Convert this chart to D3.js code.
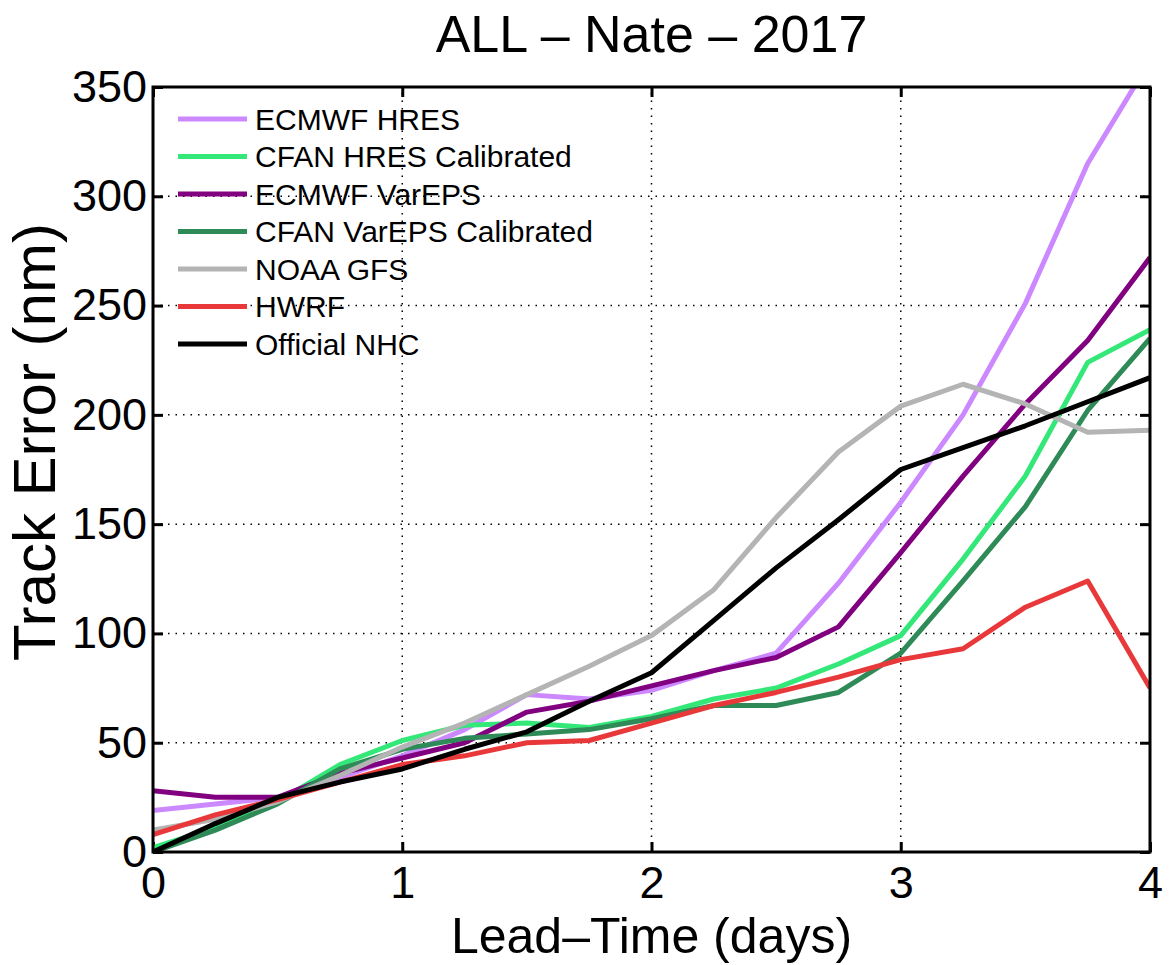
<!DOCTYPE html>
<html>
<head>
<meta charset="utf-8">
<script src="https://cdn.jsdelivr.net/npm/d3@7"></script>
<style>
  body { margin: 0; background: #fff; }
  text { font-family: "Liberation Sans", Arial, Helvetica, sans-serif; fill: #000; }
</style>
</head>
<body>
<div id="container"></div>
<script>
/* CONSTANTS AND GLOBALS */
const width = 1169,
  height = 965,
  margin = { top: 87, bottom: 113, left: 153, right: 19 };

/* DATA */
const leadDays = [0, 0.25, 0.5, 0.75, 1, 1.25, 1.5, 1.75, 2, 2.25, 2.5, 2.75, 3, 3.25, 3.5, 3.75, 4];
const ecmwfHres = [19, 22, 25, 34, 44, 56, 72, 70, 74, 83, 91, 123, 160, 200, 251, 315, 362];
const cfanHresCal = [2, 11, 23, 40, 51, 58, 59, 57, 62, 70, 75, 86, 99, 134, 172, 224, 239];
const ecmwfVareps = [28, 25, 25, 36, 43, 50, 64, 69, 76, 83, 89, 103, 137, 172, 205, 234, 272];
const cfanVarepsCal = [0, 10, 22, 38, 47, 52, 54, 56, 61, 67, 67, 73, 91, 124, 158, 202, 235];
const noaaGfs = [10, 15, 23, 35, 48, 59, 72, 85, 99, 120, 153, 183, 204, 214, 205, 192, 193];
const hwrf = [8, 17, 24, 32, 40, 44, 50, 51, 59, 67, 73, 80, 88, 93, 112, 124, 75];
const officialNhc = [0, 13, 25, 32, 38, 47, 55, 69, 82, 106, 130, 152, 175, 185, 195, 206, 217];

const seriesNames = ["ECMWF HRES", "CFAN HRES Calibrated", "ECMWF VarEPS", "CFAN VarEPS Calibrated", "NOAA GFS", "HWRF", "Official NHC"];
const seriesValues = [ecmwfHres, cfanHresCal, ecmwfVareps, cfanVarepsCal, noaaGfs, hwrf, officialNhc];
const seriesColors = ["#cc88ff", "#33e878", "#800080", "#2e8b57", "#b4b4b4", "#e8383a", "#000000"];

const xTicks = [0, 1, 2, 3, 4];
const yTicks = [0, 50, 100, 150, 200, 250, 300, 350];

// SCALES
const xScale = d3.scaleLinear()
  .domain([0, 4])
  .range([margin.left, width - margin.right]);

const yScale = d3.scaleLinear()
  .domain([0, 350])
  .range([height - margin.bottom, margin.top]);

// CREATE SVG ELEMENT
const svg = d3.select("#container")
  .append("svg")
  .attr("width", width)
  .attr("height", height);

const x0 = margin.left, x1 = width - margin.right,
  y0 = height - margin.bottom, y1 = margin.top;

svg.append("clipPath")
  .attr("id", "plotClip")
  .append("rect")
    .attr("x", x0).attr("y", y1)
    .attr("width", x1 - x0).attr("height", y0 - y1);

// GRID (dotted)
const grid = svg.append("g").attr("class", "grid")
  .attr("stroke", "#000").attr("stroke-width", 1.5)
  .attr("stroke-dasharray", "1.5,6");

grid.selectAll(".vgrid")
  .data(xTicks.slice(1, -1))
  .join("line")
    .attr("x1", d => xScale(d)).attr("x2", d => xScale(d))
    .attr("y1", y0).attr("y2", y1);

grid.selectAll(".hgrid")
  .data(yTicks.slice(1, -1))
  .join("line")
    .attr("y1", d => yScale(d)).attr("y2", d => yScale(d))
    .attr("x1", x0).attr("x2", x1);

// AXES (ticks point inward, box on all sides)
const tickLen = 10;
svg.append("g")
  .attr("transform", `translate(0,${y0})`)
  .call(d3.axisBottom(xScale).tickValues(xTicks).tickSize(-tickLen).tickPadding(14).tickFormat(d3.format("d")))
  .call(g => g.select(".domain").remove())
  .call(g => g.selectAll("line").attr("stroke-width", 3))
  .call(g => g.selectAll("text").attr("font-size", 45).attr("dy", "0.71em"));

svg.append("g")
  .attr("transform", `translate(0,${y1})`)
  .call(d3.axisTop(xScale).tickValues(xTicks).tickSize(-tickLen).tickFormat(""))
  .call(g => g.select(".domain").remove())
  .call(g => g.selectAll("line").attr("stroke-width", 3));

svg.append("g")
  .attr("transform", `translate(${x0},0)`)
  .call(d3.axisLeft(yScale).tickValues(yTicks).tickSize(-tickLen).tickPadding(6))
  .call(g => g.select(".domain").remove())
  .call(g => g.selectAll("line").attr("stroke-width", 3))
  .call(g => g.selectAll("text").attr("font-size", 45));

svg.append("g")
  .attr("transform", `translate(${x1},0)`)
  .call(d3.axisRight(yScale).tickValues(yTicks).tickSize(-tickLen).tickFormat(""))
  .call(g => g.select(".domain").remove())
  .call(g => g.selectAll("line").attr("stroke-width", 3));

// LINES
const lineGen = d3.line()
  .x((d, i) => xScale(leadDays[i]))
  .y(d => yScale(d));

svg.append("g")
  .attr("clip-path", "url(#plotClip)")
  .selectAll("path")
  .data(seriesValues)
  .join("path")
    .attr("d", lineGen)
    .attr("fill", "none")
    .attr("stroke", (d, i) => seriesColors[i])
    .attr("stroke-width", 5)
    .attr("stroke-linejoin", "round");

// BOX
svg.append("rect")
  .attr("x", x0).attr("y", y1)
  .attr("width", x1 - x0).attr("height", y0 - y1)
  .attr("fill", "none").attr("stroke", "#000").attr("stroke-width", 3);

// LEGEND
const legend = svg.append("g").attr("class", "legend");
const legendRows = legend.selectAll("g")
  .data(seriesNames)
  .join("g")
    .attr("transform", (d, i) => `translate(178,${119 + i * 37.5})`);

legendRows.append("line")
  .attr("x1", 0).attr("x2", 69)
  .attr("stroke", (d, i) => seriesColors[i])
  .attr("stroke-width", 5);

legendRows.append("text")
  .attr("x", 77)
  .attr("dy", "0.36em")
  .attr("font-size", 30)
  .text(d => d);

// TITLES
svg.append("text")
  .attr("x", (x0 + x1) / 2)
  .attr("y", 52)
  .attr("text-anchor", "middle")
  .attr("font-size", 52)
  .text("ALL \u2013 Nate \u2013 2017");

svg.append("text")
  .attr("x", (x0 + x1) / 2)
  .attr("y", 953)
  .attr("text-anchor", "middle")
  .attr("font-size", 50)
  .text("Lead\u2013Time (days)");

svg.append("text")
  .attr("transform", `translate(55,442) rotate(-90)`)
  .attr("text-anchor", "middle")
  .attr("font-size", 60)
  .text("Track Error (nm)");
</script>
</body>
</html>
